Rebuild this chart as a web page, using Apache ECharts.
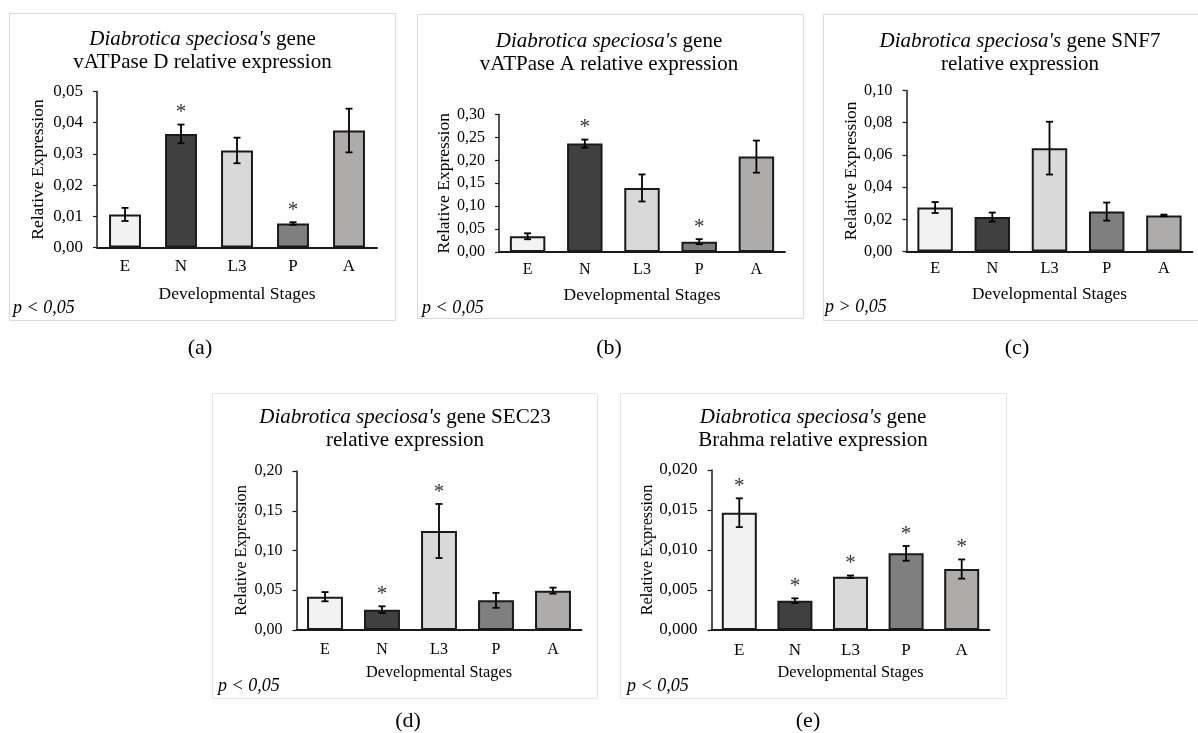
<!DOCTYPE html>
<html><head><meta charset="utf-8">
<script src="https://cdn.jsdelivr.net/npm/echarts@6/dist/echarts.min.js"></script>
<style>html,body{margin:0;padding:0;background:#fff}#c{width:1198px;height:733px}</style>
</head><body><div id="c"></div>
<script>
// ---------- DATA ----------
const stages = ['E', 'N', 'L3', 'P', 'A'];
const stageColors = ['#f2f2f2', '#404040', '#d9d9d9', '#7f7f7f', '#aeabab'];

const vatpaseDMean = [0.0106, 0.0364, 0.0311, 0.0077, 0.0375];
const vatpaseDErr  = [0.0021, 0.0030, 0.0041, 0.0004, 0.0070];
const vatpaseDSig  = [0, 1, 0, 1, 0];
const vatpaseDTicks = ['0,00', '0,01', '0,02', '0,03', '0,04', '0,05'];

const vatpaseAMean = [0.0343, 0.2365, 0.1397, 0.0225, 0.2081];
const vatpaseAErr  = [0.0065, 0.0088, 0.0295, 0.0055, 0.0350];
const vatpaseASig  = [0, 1, 0, 1, 0];
const vatpaseATicks = ['0,00', '0,05', '0,10', '0,15', '0,20', '0,25', '0,30'];

const snf7Mean = [0.0273, 0.0214, 0.0642, 0.0248, 0.0224];
const snf7Err  = [0.0034, 0.0028, 0.0164, 0.0056, 0.0005];
const snf7Sig  = [0, 0, 0, 0, 0];
const snf7Ticks = ['0,00', '0,02', '0,04', '0,06', '0,08', '0,10'];

const sec23Mean = [0.0419, 0.0256, 0.1245, 0.0373, 0.0495];
const sec23Err  = [0.0058, 0.0042, 0.0340, 0.0094, 0.0038];
const sec23Sig  = [0, 1, 1, 0, 0];
const sec23Ticks = ['0,00', '0,05', '0,10', '0,15', '0,20'];

const brahmaMean = [0.01466, 0.00366, 0.00666, 0.00958, 0.00762];
const brahmaErr  = [0.00180, 0.00030, 0.00015, 0.00092, 0.00120];
const brahmaSig  = [1, 1, 1, 1, 1];
const brahmaTicks = ['0,000', '0,005', '0,010', '0,015', '0,020'];

const yMax      = [0.05, 0.30, 0.10, 0.20, 0.020];
const yInterval = [0.01, 0.05, 0.02, 0.05, 0.005];

const titles = [
  "{i|Diabrotica speciosa's} gene\nvATPase D relative expression",
  "{i|Diabrotica speciosa's} gene\nvATPase A relative expression",
  "{i|Diabrotica speciosa's} gene SNF7\nrelative expression",
  "{i|Diabrotica speciosa's} gene SEC23\nrelative expression",
  "{i|Diabrotica speciosa's} gene\nBrahma relative expression"
];
const pValueTexts = ['p < 0,05', 'p < 0,05', 'p > 0,05', 'p < 0,05', 'p < 0,05'];
const panelLetters = ['(a)', '(b)', '(c)', '(d)', '(e)'];
const yAxisTitle = 'Relative Expression';
const xAxisTitle = 'Developmental Stages';

const means = [vatpaseDMean, vatpaseAMean, snf7Mean, sec23Mean, brahmaMean];
const errs  = [vatpaseDErr, vatpaseAErr, snf7Err, sec23Err, brahmaErr];
const sigs  = [vatpaseDSig, vatpaseASig, snf7Sig, sec23Sig, brahmaSig];
const ticks = [vatpaseDTicks, vatpaseATicks, snf7Ticks, sec23Ticks, brahmaTicks];

// ---------- LAYOUT (styles only) ----------
const FF = "'Liberation Serif', 'Times New Roman', serif";
const layout = [
  {grid:{left:97, top:91.5, width:280, height:156}, box:[9.5,13.5,386,307], tx:202.5, ty:51, lx:200, ly:348, px:13, py:308, tick:17, name:17.5, yGap:50, xGap:38, xm:11, gap:'43%', border:'#d9d9d9'},
  {grid:{left:499, top:114.5, width:286, height:137.5}, box:[417.5,14.5,386,304], tx:609, ty:53, lx:609, ly:348, px:422, py:308, tick:16, name:17.5, yGap:45, xGap:34, xm:10, gap:'38%', border:'#d9d9d9'},
  {grid:{left:906.5, top:90.5, width:286, height:161}, box:[823.5,14.5,380,306], tx:1020, ty:53, lx:1017, ly:348, px:825, py:307, tick:16.3, name:17.3, yGap:46, xGap:34, xm:9, gap:'38%', border:'#d9d9d9'},
  {grid:{left:296.5, top:471, width:285, height:159}, box:[212.5,393.5,385,305], tx:405, ty:429, lx:408, ly:721, px:218, py:686, tick:16, name:16.3, yGap:47, xGap:34.5, xm:12, gap:'37%', border:'#e6e6e6'},
  {grid:{left:711.5, top:470, width:278, height:160}, box:[620.5,393.5,386,305], tx:813, ty:429, lx:808, ly:721, px:627, py:686, tick:17, name:16.3, yGap:55, xGap:34.5, xm:12, gap:'37%', border:'#e6e6e6'}
];

function errRender(params, api) {
  const i = api.value(0), m = api.value(1), e = api.value(2), s = api.value(3);
  const top = api.coord([i, m + e]);
  const bot = api.coord([i, m - e]);
  const x = top[0], cap = 3.5;
  const ls = {stroke: '#000', lineWidth: 1.8};
  const ch = [
    {type:'line', shape:{x1:x, y1:top[1], x2:x, y2:bot[1]}, style:ls},
    {type:'line', shape:{x1:x-cap, y1:top[1], x2:x+cap, y2:top[1]}, style:ls},
    {type:'line', shape:{x1:x-cap, y1:bot[1], x2:x+cap, y2:bot[1]}, style:ls}
  ];
  if (s) {
    ch.push({type:'text', style:{text:'*', x:x, y:top[1]-12, align:'center', verticalAlign:'middle',
      fontSize:21, fontFamily:FF, fill:'#333'}});
  }
  return {type:'group', children:ch};
}

const grid = [], xAxis = [], yAxis = [], series = [], graphic = [];
layout.forEach((L, k) => {
  grid.push(Object.assign({containLabel:false}, L.grid));
  xAxis.push({
    type:'category', gridIndex:k, data:stages,
    axisLine:{show:true, lineStyle:{color:'#1a1a1a', width:1.8}},
    axisTick:{show:false},
    axisLabel:{color:'#000', fontFamily:FF, fontSize:L.tick, margin:L.xm},
    name:xAxisTitle, nameLocation:'middle', nameGap:L.xGap,
    nameTextStyle:{color:'#000', fontFamily:FF, fontSize:L.name}
  });
  yAxis.push({
    type:'value', gridIndex:k, min:0, max:yMax[k], interval:yInterval[k],
    axisLine:{show:true, lineStyle:{color:'#1a1a1a', width:1.5}},
    axisTick:{show:true, length:4, lineStyle:{color:'#1a1a1a', width:1.2}},
    splitLine:{show:false},
    axisLabel:{color:'#000', fontFamily:FF, fontSize:L.tick, margin:14,
      formatter:(v, idx) => ticks[k][idx]},
    name:yAxisTitle, nameLocation:'middle', nameGap:L.yGap, nameRotate:90,
    nameTextStyle:{color:'#000', fontFamily:FF, fontSize:L.name}
  });
  series.push({
    type:'bar', xAxisIndex:k, yAxisIndex:k, barCategoryGap:L.gap,
    data: means[k].map((v, i) => ({value:v, itemStyle:{color:stageColors[i]}})),
    itemStyle:{borderColor:'#1a1a1a', borderWidth:2},
    emphasis:{disabled:true}, silent:true
  });
  series.push({
    type:'custom', xAxisIndex:k, yAxisIndex:k, renderItem:errRender, clip:false, z:5,
    encode:{x:0, y:1},
    data: means[k].map((v, i) => [i, v, errs[k][i], sigs[k][i]]),
    silent:true
  });
  graphic.push({type:'rect', shape:{x:L.box[0], y:L.box[1], width:L.box[2], height:L.box[3]},
    style:{fill:'none', stroke:L.border, lineWidth:1}, z:-1});
  graphic.push({type:'text', x:L.tx, y:L.ty, style:{
    text:titles[k], align:'center', verticalAlign:'middle', fontSize:21, fontFamily:FF, fill:'#000', lineHeight:23,
    rich:{i:{fontStyle:'italic', fontSize:21, fontFamily:FF, fill:'#000', lineHeight:23}}}});
  graphic.push({type:'text', x:L.px, y:L.py, style:{
    text:pValueTexts[k], align:'left', verticalAlign:'middle', fontSize:18, fontStyle:'italic', fontFamily:FF, fill:'#000'}});
  graphic.push({type:'text', x:L.lx, y:L.ly, style:{
    text:panelLetters[k], align:'center', verticalAlign:'middle', fontSize:22, fontFamily:FF, fill:'#000'}});
});

const chart = echarts.init(document.getElementById('c'), null, {renderer:'canvas'});
chart.setOption({animation:false, backgroundColor:'#fff', grid, xAxis, yAxis, series, graphic});
</script>
</body></html>
